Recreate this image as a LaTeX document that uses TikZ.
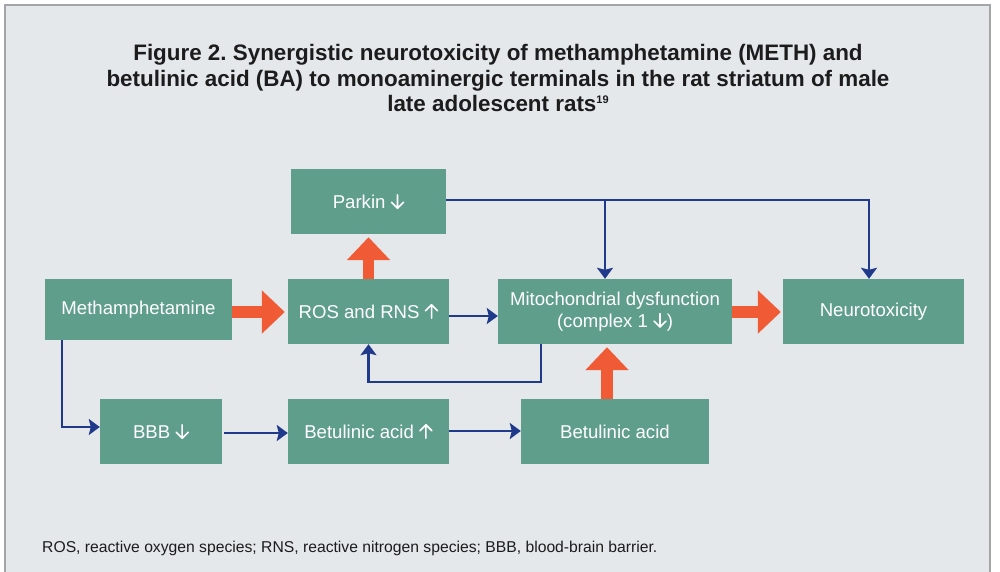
\documentclass[tikz,border=0pt]{standalone}
\usepackage{fontspec}
\setmainfont{Liberation Sans}
\frenchspacing
\usetikzlibrary{arrows.meta,calc}
\newcommand\upar{\tikz[baseline=0pt,x=1pt,y=1pt]{\draw[white,line width=1.6pt,line cap=round,line join=round] (0,0)--(0,13.5) (-6,7.5)--(0,13.5)--(6,7.5);}}
\newcommand\dnar{\tikz[baseline=0pt,x=1pt,y=1pt]{\draw[white,line width=1.6pt,line cap=round,line join=round] (0,0)--(0,13.5) (-6,6)--(0,0)--(6,6);}}
\definecolor{panelbg}{HTML}{E4E8EB}
\definecolor{panelborder}{HTML}{A3A6A8}
\definecolor{boxgreen}{HTML}{5F9E8B}
\definecolor{flowblue}{HTML}{1F3A8A}
\definecolor{bigorange}{HTML}{F05A35}
\definecolor{titlegray}{HTML}{1C1C1C}
\begin{document}
\begin{tikzpicture}[x=1pt,y=-1pt,
  box/.style={fill=boxgreen,draw=none,text=white,inner sep=0pt,align=center,
    font=\fontsize{18.6}{21.5}\selectfont},
  blueflow/.style={draw=flowblue,line width=2.2pt,-{Stealth[length=11pt,width=16pt,inset=2pt]}},
  orangeflow/.style={draw=bigorange,line width=11.5pt,-{Triangle[length=23pt,width=42pt]}},
  titleline/.style={text=titlegray,font=\fontsize{22.4}{26}\bfseries\selectfont,anchor=base,inner sep=0pt}
]
\useasboundingbox (0,0) rectangle (1000,571);
\fill[white] (0,0) rectangle (1000,571);
\filldraw[fill=panelbg,draw=panelborder,line width=1.5pt] (5,5) rectangle (990,580);

% title
\node[titleline] (t1) at (498,60) {Figure 2. Synergistic neurotoxicity of methamphetamine (METH) and};
\node[titleline] (t2) at (498,86) {betulinic acid (BA) to monoaminergic terminals in the rat striatum of male};
\node[titleline] (t3) at (498,111) {late adolescent rats{\fontsize{11}{12}\selectfont\raisebox{8pt}{19}}};

% boxes
\node[box,minimum width=155pt,minimum height=65pt] (parkin) at (368.5,201.5) {Parkin \dnar};
\node[box,minimum width=187pt,minimum height=61pt] (meth) at (138.5,309.5) {Methamphetamine};
\node[box,minimum width=161pt,minimum height=65pt] (ros) at (368.5,311.5) {ROS and RNS \upar};
\node[box,minimum width=234pt,minimum height=65pt] (mito) at (615,311.5) {Mitochondrial dysfunction\\(complex 1 \dnar)};
\node[box,minimum width=181pt,minimum height=65pt] (neuro) at (873.5,311.5) {Neurotoxicity};
\node[box,minimum width=122pt,minimum height=65pt] (bbb) at (161,431.5) {BBB \dnar};
\node[box,minimum width=161pt,minimum height=65pt] (bau) at (368.5,431.5) {Betulinic acid \upar};
\node[box,minimum width=188pt,minimum height=65pt] (ba) at (615,431.5) {Betulinic acid};

% corner coordinates
\coordinate (pk1) at (869,200);
\coordinate (pk2) at (605,200);
\coordinate (mt1) at (541,382);
\coordinate (mt2) at (368.5,382);
\coordinate (me1) at (62,427);

% blue connectors
\draw[blueflow] (parkin.east |- pk1) -- (pk1) -- (neuro.north -| pk1);
\draw[blueflow] (pk2) -- (mito.north -| pk2);
\draw[blueflow] ($(ros.east)+(0,4.5)$) -- ($(mito.west)+(0,4.5)$);
\draw[blueflow] (mito.south -| mt1) -- (mt1) -- (mt2) -- (ros.south);
\draw[blueflow] (meth.south -| me1) -- (me1) -- (bbb.west |- me1);
\draw[blueflow] ($(bbb.east)+(2,1.5)$) -- ($(bau.west)+(0,1.5)$);
\draw[blueflow] ($(bau.east)+(0,-0.5)$) -- ($(ba.west)+(0,-0.5)$);

% orange arrows
\draw[orangeflow] (meth.east |- 0,312) -- ($(ros.west |- 0,312)+(-3,0)$);
\draw[orangeflow] (ros.north) -- ($(parkin.south)+(0,3)$);
\draw[orangeflow] (mito.east |- 0,312) -- ($(neuro.west |- 0,312)+(-2,0)$);
\draw[orangeflow] ($(ba.north)+(-8,0)$) -- ($(mito.south)+(-8,3)$);

% footnote
\node[anchor=base west,inner sep=0pt,text=titlegray,font=\fontsize{15.7}{19}\selectfont] (foot) at (42,552)
  {ROS, reactive oxygen species; RNS, reactive nitrogen species; BBB, blood-brain barrier.};
\end{tikzpicture}
\end{document}
